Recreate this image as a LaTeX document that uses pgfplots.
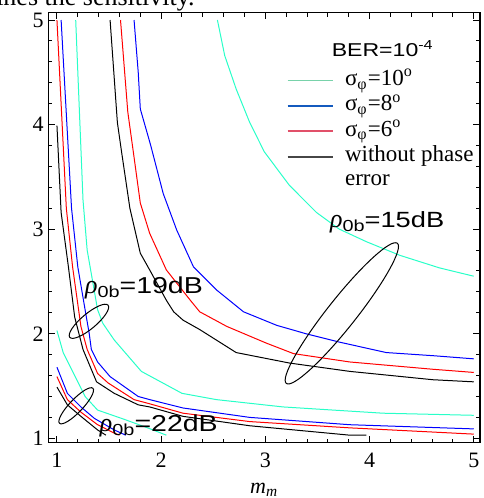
\documentclass[border=0pt]{standalone}
\usepackage{fontspec}
\setmainfont{Liberation Serif}
\newfontfamily\lblfont[FakeStretch=1.24]{Liberation Sans}
\usepackage{pgfplots}
\pgfplotsset{compat=1.18}
\usetikzlibrary{shapes.geometric}

\definecolor{cyanp}{RGB}{40,255,200}
\definecolor{legcyan}{RGB}{120,210,170}
\definecolor{legblue}{RGB}{20,90,190}
\definecolor{legred}{RGB}{225,80,105}
\definecolor{leggray}{RGB}{70,70,70}

\begin{document}
\begin{tikzpicture}
\useasboundingbox (-24.15pt,-27.65pt) rectangle (217.35pt,221.35pt);
\begin{axis}[
  scale only axis,
  width=215.85pt, height=215pt,
  xmin=0.917, xmax=5.06, ymin=0.958, ymax=5.07,
  xtick={1,2,3,4,5}, ytick={1,2,3,4,5},
  minor tick num=4,
  tick align=inside,
  major tick length=3.3pt, minor tick length=2pt,
  axis line style={line width=0.6pt},
  tick style={black, line width=0.5pt},
  tick label style={font=\fontsize{11}{13}\selectfont},
  /pgf/number format/assume math mode=true,
  xticklabel style={yshift=-1.5pt},
  yticklabel style={xshift=1.2pt},
  xlabel={\textit{m}\textsubscript{\textit{m}}},
  xlabel style={at={(axis description cs:0.5,0)}, anchor=base, yshift=-25.2pt, font=\fontsize{11}{13}\selectfont},
  legend style={at={(axis cs:3.202,4.531)}, anchor=north west, draw=none, fill=none,
    inner sep=0pt, row sep=1.7pt, font=\fontsize{11.5}{11.7}\selectfont,
    nodes={inner sep=0pt, text height=8pt, text depth=3pt},
    /tikz/every odd column/.append style={column sep=5.8pt}},
  legend cell align=left,
  legend image code/.code={\draw[#1, line width=0.85pt] (0pt,0pt) -- (22.5pt,0pt);},
  every axis plot/.append style={line width=0.5pt},
]
% rho_0b = 15 dB
\addplot[cyanp, forget plot] coordinates {(2.54,5.0) (2.61,4.66) (2.72,4.34) (2.85,4.02) (2.99,3.74) (3.23,3.42) (3.49,3.16) (3.71,3.00) (3.97,2.88) (4.29,2.75) (4.67,2.63) (5.0,2.55)};
\addplot[blue, forget plot] coordinates {(1.74,5.0) (1.78,4.50) (1.80,4.15) (1.90,3.80) (2.02,3.34) (2.15,2.99) (2.31,2.64) (2.53,2.42) (2.79,2.21) (3.11,2.08) (3.39,2.00) (3.71,1.92) (4.16,1.82) (4.61,1.79) (5.0,1.76)};
\addplot[red, forget plot] coordinates {(1.61,5.0) (1.68,4.12) (1.73,3.76) (1.80,3.25) (1.89,2.96) (2.05,2.61) (2.28,2.32) (2.37,2.21) (2.63,2.07) (3.01,1.91) (3.27,1.81) (3.81,1.73) (4.61,1.66) (5.0,1.63)};
\addplot[black, forget plot] coordinates {(1.51,5.0) (1.58,4.02) (1.62,3.74) (1.70,3.20) (1.80,2.77) (1.89,2.61) (2.05,2.32) (2.12,2.21) (2.21,2.13) (2.37,2.04) (2.72,1.82) (3.23,1.72) (3.81,1.64) (4.61,1.56) (5.0,1.54)};
% rho_0b = 19 dB
\addplot[cyanp, forget plot] coordinates {(1.18,5.0) (1.25,3.28) (1.29,2.80) (1.39,2.23) (1.44,2.10) (1.55,1.94) (1.81,1.64) (2.20,1.43) (2.53,1.37) (3.17,1.30) (4.13,1.24) (5.0,1.22)};
\addplot[blue, forget plot] coordinates {(1.04,5.0) (1.14,3.20) (1.20,2.64) (1.27,2.23) (1.31,2.00) (1.33,1.85) (1.39,1.73) (1.51,1.59) (1.78,1.40) (1.89,1.37) (2.21,1.29) (2.85,1.20) (3.81,1.13) (5.0,1.09)};
\addplot[red, forget plot] coordinates {(1.0,5.0) (1.09,3.20) (1.15,2.64) (1.23,2.07) (1.29,1.85) (1.39,1.62) (1.49,1.53) (1.74,1.37) (1.89,1.33) (2.21,1.24) (2.85,1.16) (3.81,1.10) (5.0,1.04)};
\addplot[black, forget plot] coordinates {(1.0,3.99) (1.04,3.16) (1.11,2.64) (1.17,2.16) (1.25,1.85) (1.38,1.54) (1.55,1.43) (1.78,1.32) (1.89,1.30) (2.21,1.21) (2.85,1.12) (3.81,1.03) (3.97,1.03)};
% rho_0b = 22 dB
\addplot[cyanp, forget plot] coordinates {(1.0,2.03) (1.06,1.82) (1.15,1.64) (1.27,1.40) (1.39,1.27) (1.65,1.18) (1.87,1.10) (2.05,1.03)};
\addplot[blue, forget plot] coordinates {(1.0,1.68) (1.10,1.43) (1.23,1.30) (1.36,1.19) (1.55,1.08) (1.66,1.03)};
\addplot[red, forget plot] coordinates {(1.0,1.59) (1.10,1.37) (1.23,1.25) (1.39,1.13) (1.55,1.05) (1.60,1.03)};
\addplot[black, forget plot] coordinates {(1.0,1.49) (1.10,1.32) (1.23,1.21) (1.39,1.08) (1.47,1.03)};

\addlegendimage{legcyan}
\addlegendentry{σ\textsubscript{φ}=10\textsuperscript{o}}
\addlegendimage{legblue}
\addlegendentry{σ\textsubscript{φ}=8\textsuperscript{o}}
\addlegendimage{legred}
\addlegendentry{σ\textsubscript{φ}=6\textsuperscript{o}}
\addlegendimage{leggray}
\addlegendentry{\begin{tabular}[t]{@{}l@{}}without phase\\error\end{tabular}}

\node[anchor=base west, inner sep=0pt, font=\lblfont\fontsize{9.3}{11}\selectfont] at (axis cs:3.634,4.648) {BER=10\textsuperscript{-4}};

\node[draw, ellipse, inner sep=0pt, line width=0.5pt, minimum width=89.4pt, minimum height=14.4pt, rotate=51.6] at (axis cs:3.734,2.195) {};
\node[draw, ellipse, inner sep=0pt, line width=0.5pt, minimum width=25pt, minimum height=7.5pt, rotate=40] at (axis cs:1.307,2.119) {};
\node[draw, ellipse, inner sep=0pt, line width=0.5pt, minimum width=24.2pt, minimum height=6.5pt, rotate=46.4] at (axis cs:1.185,1.311) {};

\node[anchor=base west, inner sep=0pt] at (axis cs:3.617,3.02) {\fontsize{13}{15}\selectfont\textit{ρ}\lblfont\fontsize{8}{9}\selectfont\raisebox{-2pt}{0b}\fontsize{11}{13}\selectfont=15dB};
\node[anchor=base west, inner sep=0pt] at (axis cs:1.266,2.389) {\fontsize{13}{15}\selectfont\textit{ρ}\lblfont\fontsize{8}{9}\selectfont\raisebox{-2pt}{0b}\fontsize{11.5}{13}\selectfont=19dB};
\node[anchor=base west, inner sep=0pt] at (axis cs:1.409,1.063) {\fontsize{13}{15}\selectfont\textit{ρ}\lblfont\fontsize{8}{9}\selectfont\raisebox{-2pt}{0b}\fontsize{11.5}{13}\selectfont=22dB};

\node[rotate=90, anchor=base, inner sep=0pt, font=\fontsize{11}{13}\selectfont] at (rel axis cs:-0.061,0.56) {\textit{m}\textsubscript{\textit{s}}};
\end{axis}
\node[anchor=base east, inner sep=0pt, font=\fontsize{13}{15}\selectfont] at (73.35pt,218.6pt) {determines the sensitivity.};
\end{tikzpicture}
\end{document}
